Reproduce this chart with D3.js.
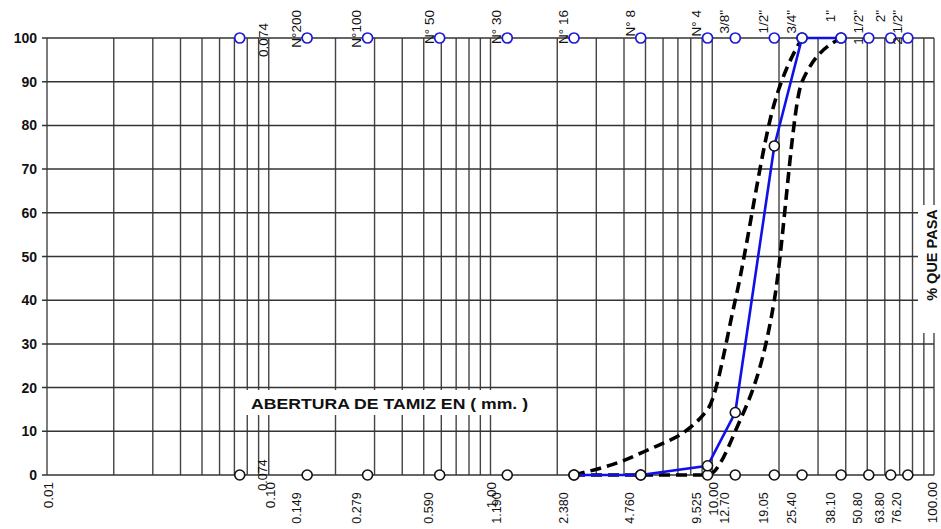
<!DOCTYPE html>
<html><head><meta charset="utf-8">
<script src="https://cdn.jsdelivr.net/npm/d3@7"></script>
<style>
body{margin:0;background:#fff}
svg{display:block}
text{font-family:"Liberation Sans",Arial,Helvetica,sans-serif;fill:#111}
</style>
</head><body>
<svg id="c" width="941" height="529"></svg>
<script>
// ---------- data ----------
const sieveSizes = [0.074, 0.149, 0.279, 0.590, 1.190, 2.380, 4.760, 9.525, 12.70, 19.05, 25.40, 38.10, 50.80, 63.80, 76.20];
const sieveSizeLabels = ["0.074", "0.149", "0.279", "0.590", "1.190", "2.380", "4.760", "9.525", "12.70", "19.05", "25.40", "38.10", "50.80", "63.80", "76.20"];
const sieveNames = ["0.074", "N°200", "N°100", "N° 50", "N° 30", "N° 16", "N° 8", "N° 4", "3/8\"", "1/2\"", "3/4\"", "1\"", "1 1/2\"", "2\"", "2 1/2\""];
const axisTickValues = [0.01, 0.1, 1, 10, 100];
const axisTickLabels = ["0.01", "0.10", "1.00", "10.00", "100.00"];
const yTickValues = [0, 10, 20, 30, 40, 50, 60, 70, 80, 90, 100];

const sampleSizes = [2.38, 4.76, 9.525, 12.70, 19.05, 25.40, 38.10];
const samplePass  = [0, 0, 2.1, 14.3, 75.3, 100, 100];
const upperSizes  = [2.38, 4.76, 9.525, 12.70, 19.05, 25.40];
const upperPass   = [0, 5, 15, 40, 85, 100];
const lowerSizes  = [2.38, 4.76, 9.525, 12.70, 19.05, 25.40, 38.10];
const lowerPass   = [0, 0, 0, 10, 40, 90, 100];

const xTitle = "ABERTURA DE TAMIZ EN ( mm.  )";
const yTitle = "% QUE PASA";

// ---------- chart ----------
const svg = d3.select("#c");
const x = d3.scaleLog().domain([0.01, 100]).range([47, 934]);
const y = d3.scaleLinear().domain([0, 100]).range([475, 38]);

const grid = svg.append("g");
grid.selectAll("line.v").data(x.ticks()).join("line")
  .attr("x1", d => x(d)).attr("x2", d => x(d))
  .attr("y1", y(100)).attr("y2", y(0))
  .attr("stroke", "#444").attr("stroke-width", 1.4);
grid.selectAll("line.h").data(yTickValues).join("line")
  .attr("x1", 42).attr("x2", x(100))
  .attr("y1", d => y(d)).attr("y2", d => y(d))
  .attr("stroke", "#333").attr("stroke-width", 1.5);

// y labels
svg.append("g").selectAll("text").data(yTickValues).join("text")
  .attr("x", 37).attr("y", d => y(d)).attr("dy", "0.36em")
  .attr("text-anchor", "end").style("font-size", "14px").style("font-weight", "bold")
  .text(d => d);

// white boxes behind titles
svg.append("rect").attr("x", 245).attr("y", 390).attr("width", 292).attr("height", 25).attr("fill", "#fff");
svg.append("rect").attr("x", 918).attr("y", 205).attr("width", 23).attr("height", 128).attr("fill", "#fff");

svg.append("text").attr("x", 251).attr("y", 409)
  .attr("textLength", 277).attr("lengthAdjust", "spacingAndGlyphs")
  .style("font-size", "14.5px").style("font-weight", "bold").text(xTitle);
svg.append("text").attr("transform", `translate(937,255) rotate(-90)`)
  .attr("text-anchor", "middle").style("font-size", "14.5px").style("font-weight", "bold").text(yTitle);

// curves
const line = d3.line().x(d => x(d[0])).y(d => y(d[1]));
const smooth = d3.line().x(d => x(d[0])).y(d => y(d[1])).curve(d3.curveMonotoneX);

svg.append("path").datum(d3.zip(lowerSizes, lowerPass)).attr("d", smooth)
  .attr("fill", "none").attr("stroke", "#000").attr("stroke-width", 3.6).attr("stroke-dasharray", "11,6");
svg.append("path").datum(d3.zip(upperSizes, upperPass)).attr("d", smooth)
  .attr("fill", "none").attr("stroke", "#000").attr("stroke-width", 3.6).attr("stroke-dasharray", "11,6");
svg.append("path").datum(d3.zip(sampleSizes, samplePass)).attr("d", line)
  .attr("fill", "none").attr("stroke", "#1010e8").attr("stroke-width", 2.6);

// bottom row circles (0 %)
svg.append("g").selectAll("circle").data(sieveSizes).join("circle")
  .attr("cx", d => x(d)).attr("cy", y(0)).attr("r", 5)
  .attr("fill", "#fff").attr("stroke", "#111").attr("stroke-width", 1.6);
// sample markers
svg.append("g").selectAll("circle").data(d3.zip(sampleSizes, samplePass)).join("circle")
  .attr("cx", d => x(d[0])).attr("cy", d => y(d[1])).attr("r", 5)
  .attr("fill", "#fff").attr("stroke", "#111").attr("stroke-width", 1.6);
// top row circles (100 %)
svg.append("g").selectAll("circle").data(sieveSizes).join("circle")
  .attr("cx", d => x(d)).attr("cy", y(100)).attr("r", 5)
  .attr("fill", "#fff").attr("stroke", "#1a1ad6").attr("stroke-width", 1.7);

// top sieve names
svg.append("g").selectAll("text").data(d3.zip(sieveSizes, sieveNames)).join("text")
  .attr("transform", (d, i) => i === 0
      ? `translate(${x(d[0]) + 23},${y(100) + 2}) rotate(-90)`
      : `translate(${x(d[0]) - 11},10) rotate(-90)`)
  .attr("text-anchor", (d, i) => i === 0 ? "middle" : "end")
  .attr("dy", "0.36em").style("font-size", "13.5px")
  .text(d => d[1]);

// bottom sieve size labels
svg.append("g").selectAll("text").data(d3.zip(sieveSizes, sieveSizeLabels)).join("text")
  .attr("transform", (d, i) => i === 0
      ? `translate(${x(d[0]) + 23},${y(0)}) rotate(-90)`
      : `translate(${x(d[0]) - 11},508) rotate(-90)`)
  .attr("text-anchor", "middle")
  .attr("dy", "0.36em").style("font-size", "12.5px")
  .text(d => d[1]);

// axis tick labels
svg.append("g").selectAll("text").data(d3.zip(axisTickValues, axisTickLabels)).join("text")
  .attr("transform", d => `translate(${Math.min(x(d[0]) + 1, 932)},482) rotate(-90)`)
  .attr("text-anchor", "end").attr("dy", "0.36em").style("font-size", "13.5px")
  .text(d => d[1]);
</script>
</body></html>
